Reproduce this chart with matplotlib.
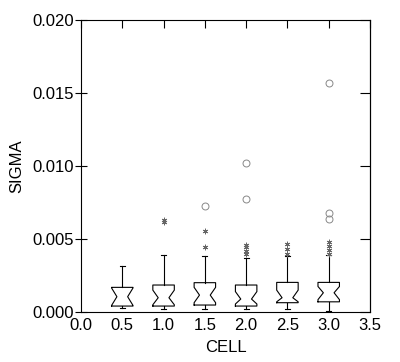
import matplotlib
matplotlib.use("Agg")
import matplotlib.pyplot as plt

plt.rcParams['font.family'] = ['Liberation Sans', 'DejaVu Sans']

# posições das células e estatísticas
cells = [0.5, 1.0, 1.5, 2.0, 2.5, 3.0]
q1 = [0.00041, 0.00041, 0.00048, 0.00041, 0.00064, 0.00070]
med = [0.00105, 0.00098, 0.00116, 0.00089, 0.00098, 0.00132]
q3 = [0.00169, 0.00185, 0.00201, 0.00185, 0.00203, 0.00203]
ci_lo = [0.00045, 0.00050, 0.00064, 0.00055, 0.00070, 0.00085]
ci_hi = [0.00165, 0.00150, 0.00169, 0.00140, 0.00150, 0.00175]
wlo = [0.00025, 0.00020, 0.00020, 0.00020, 0.00020, 0.00010]
whi = [0.00315, 0.00390, 0.00384, 0.00372, 0.00384, 0.00390]

# outliers: asteriscos e círculos
star_x = [1.0, 1.0, 1.5, 1.5, 2.0, 2.0, 2.0, 2.0, 2.5, 2.5, 2.5, 3.0, 3.0, 3.0, 3.0]
star_y = [0.00618, 0.00628, 0.00447, 0.00555, 0.00400, 0.00420, 0.00442, 0.00462,
          0.00400, 0.00430, 0.00465, 0.00400, 0.00422, 0.00452, 0.00480]
circ_x = [1.5, 2.0, 2.0, 3.0, 3.0, 3.0]
circ_y = [0.00726, 0.01018, 0.00774, 0.01570, 0.00676, 0.00638]

stats = []
for i in range(len(cells)):
    stats.append({'q1': q1[i], 'med': med[i], 'q3': q3[i],
                  'cilo': ci_lo[i], 'cihi': ci_hi[i],
                  'whislo': wlo[i], 'whishi': whi[i], 'fliers': []})

fig = plt.figure(figsize=(4, 3.62), dpi=100)
ax = fig.add_axes([0.2025, 0.138, 0.7225, 0.807])

lw = 0.8
ax.bxp(stats, positions=cells, widths=0.26, shownotches=True, showfliers=False,
       manage_ticks=False,
       boxprops=dict(color='black', linewidth=lw),
       whiskerprops=dict(color='black', linewidth=lw),
       capprops=dict(color='black', linewidth=lw),
       medianprops=dict(color='black', linewidth=0),
       capwidths=0.06)

ax.plot(star_x, star_y, linestyle='none', marker=(6, 2, 0), markersize=4,
        color='#666666', markeredgewidth=0.6)
ax.plot(circ_x, circ_y, linestyle='none', marker='o', markersize=5,
        markerfacecolor='none', markeredgecolor='#888888', markeredgewidth=0.7)

ax.set_xlim(0, 3.5)
ax.set_ylim(0, 0.02)
ax.set_xticks([0.0, 0.5, 1.0, 1.5, 2.0, 2.5, 3.0, 3.5])
ax.set_xticklabels(['0.0', '0.5', '1.0', '1.5', '2.0', '2.5', '3.0', '3.5'])
ax.set_yticks([0.0, 0.005, 0.010, 0.015, 0.020])
ax.set_yticklabels(['0.000', '0.005', '0.010', '0.015', '0.020'])

ax.tick_params(axis='x', bottom=False, top=True, direction='in', length=6,
               width=lw, labelsize=12, pad=4)
ax.tick_params(axis='y', left=True, right=False, direction='inout', length=8,
               width=lw, labelsize=12, pad=1)

# ticks do lado direito, só para dentro
sec = ax.secondary_yaxis('right')
sec.set_yticks([0.0, 0.005, 0.010, 0.015, 0.020])
sec.tick_params(direction='in', length=7, width=lw, labelright=False)
sec.spines['right'].set_linewidth(lw)
for s in ax.spines.values():
    s.set_linewidth(lw)

ax.set_xlabel('CELL', fontsize=12, labelpad=5)
ax.set_ylabel('SIGMA', fontsize=12, labelpad=6)

fig.savefig('out.png', dpi=100)
